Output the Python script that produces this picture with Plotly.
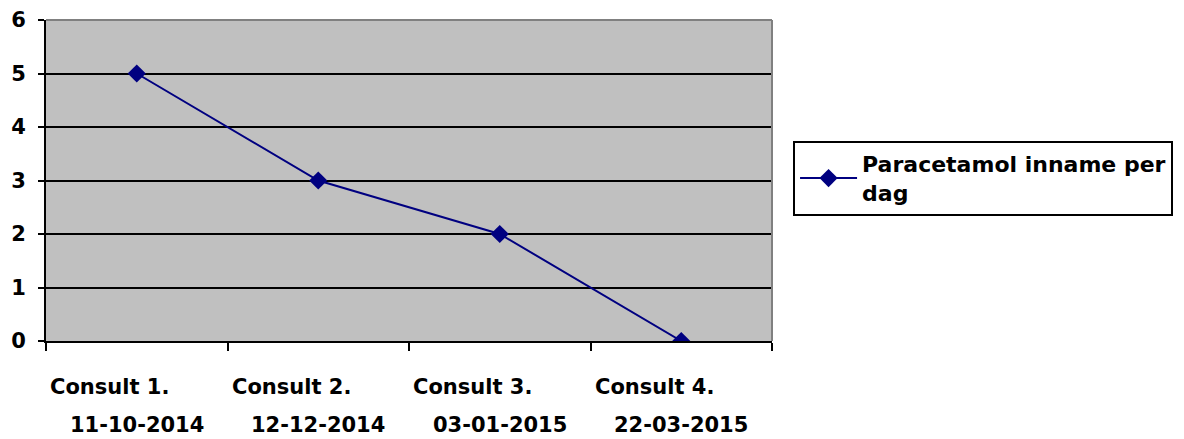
import plotly.graph_objects as go

categories = ["Consult 1.", "Consult 2.", "Consult 3.", "Consult 4."]
dates = ["11-10-2014", "12-12-2014", "03-01-2015", "22-03-2015"]
values = [5, 3, 2, 0]
series_name = "Paracetamol inname per<br>dag"

FONT = "'DejaVu Sans', sans-serif"
NAVY = "#000080"
FS = 21

fig = go.Figure()
fig.add_trace(go.Scatter(
    x=categories, y=values, mode="lines+markers", name=series_name,
    line=dict(color=NAVY, width=2),
    marker=dict(symbol="diamond", size=14, color=NAVY),
))

annotations = []
for c, d in zip(categories, dates):
    annotations.append(dict(x=c, xref="x", y=0, yref="paper", yshift=-60, xshift=-27,
                            text="<b>%s</b>" % c, showarrow=False,
                            font=dict(family=FONT, size=FS, color="black")))
    annotations.append(dict(x=c, xref="x", y=0, yref="paper", yshift=-98,
                            text="<b>%s</b>" % d, showarrow=False,
                            font=dict(family=FONT, size=FS, color="black")))

fig.update_layout(
    width=1184, height=439,
    margin=dict(l=38, r=420, t=12, b=106, autoexpand=False),
    paper_bgcolor="white", plot_bgcolor="#C0C0C0",
    font=dict(family=FONT, size=FS, color="black"),
    showlegend=True,
    legend=dict(x=1.029, y=0.623, xanchor="left", yanchor="top",
                bordercolor="black", borderwidth=2, bgcolor="white",
                itemwidth=57,
                font=dict(family=FONT, size=22, color="black", weight="bold")),
    xaxis=dict(type="category", range=[-0.5, 3.5], showgrid=False,
               showline=True, linecolor="black", linewidth=2,
               ticks="outside", tickson="boundaries", ticklen=8, tickwidth=2,
               tickcolor="black", showticklabels=False),
    yaxis=dict(range=[0, 6], tickvals=[0, 1, 2, 3, 4, 5, 6], showgrid=True,
               gridcolor="black", gridwidth=2, zeroline=False,
               showline=True, linecolor="black", linewidth=2,
               ticks="outside", ticklen=6, tickwidth=2, tickcolor="black",
               ticklabelstandoff=8,
               tickfont=dict(family=FONT, size=FS, color="black", weight="bold")),
    annotations=annotations,
    shapes=[
        dict(type="line", xref="paper", yref="paper", x0=0, x1=1, y0=1, y1=1,
             line=dict(color="#808080", width=2), layer="above"),
        dict(type="line", xref="paper", yref="paper", x0=1, x1=1, y0=0, y1=1,
             line=dict(color="#808080", width=2), layer="above"),
    ],
)

fig.write_html("out.html")
